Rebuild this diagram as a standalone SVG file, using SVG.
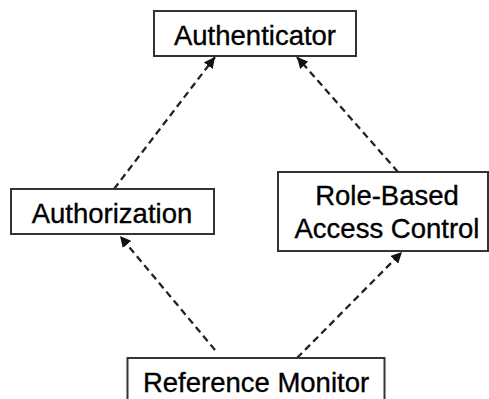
<svg xmlns="http://www.w3.org/2000/svg" width="489" height="399" viewBox="0 0 489 399">
  <style>
    .box { fill: #ffffff; stroke: #333333; stroke-width: 2; }
    .label { font-family: "Liberation Sans", Arial, sans-serif; font-size: 27.5px; fill: #000000; stroke: #000000; stroke-width: 0.35; text-anchor: middle; }
    .dep { fill: none; stroke: #222222; stroke-width: 2.3; stroke-dasharray: 7 4.5; marker-end: url(#head); }
  </style>
  <defs>
    <marker id="head" viewBox="0 0 10 10" refX="10" refY="5" markerWidth="11" markerHeight="11" markerUnits="userSpaceOnUse" orient="auto">
      <path d="M0,0 L10,5 L0,10 z" fill="#111111"/>
    </marker>
  </defs>
  <rect width="489" height="399" fill="#ffffff"/>

  <g id="connectors">
    <line class="dep" x1="114" y1="189" x2="215" y2="57"/>
    <line class="dep" x1="398" y1="172" x2="297" y2="57"/>
    <line class="dep" x1="215" y1="350" x2="120" y2="236"/>
    <line class="dep" x1="297" y1="358" x2="402" y2="252"/>
  </g>

  <g id="authenticator">
    <rect class="box" x="154" y="11" width="202" height="45"/>
    <text class="label" x="255" y="45">Authenticator</text>
  </g>

  <g id="authorization">
    <rect class="box" x="11" y="189" width="203" height="45"/>
    <text class="label" x="112" y="223">Authorization</text>
  </g>

  <g id="rbac">
    <rect class="box" x="278" y="172" width="210" height="79"/>
    <text class="label" x="387" y="205">Role-Based</text>
    <text class="label" x="387" y="238">Access Control</text>
  </g>

  <g id="reference-monitor">
    <rect class="box" x="127.5" y="358" width="257" height="50"/>
    <text class="label" x="256" y="392">Reference Monitor</text>
  </g>
</svg>
